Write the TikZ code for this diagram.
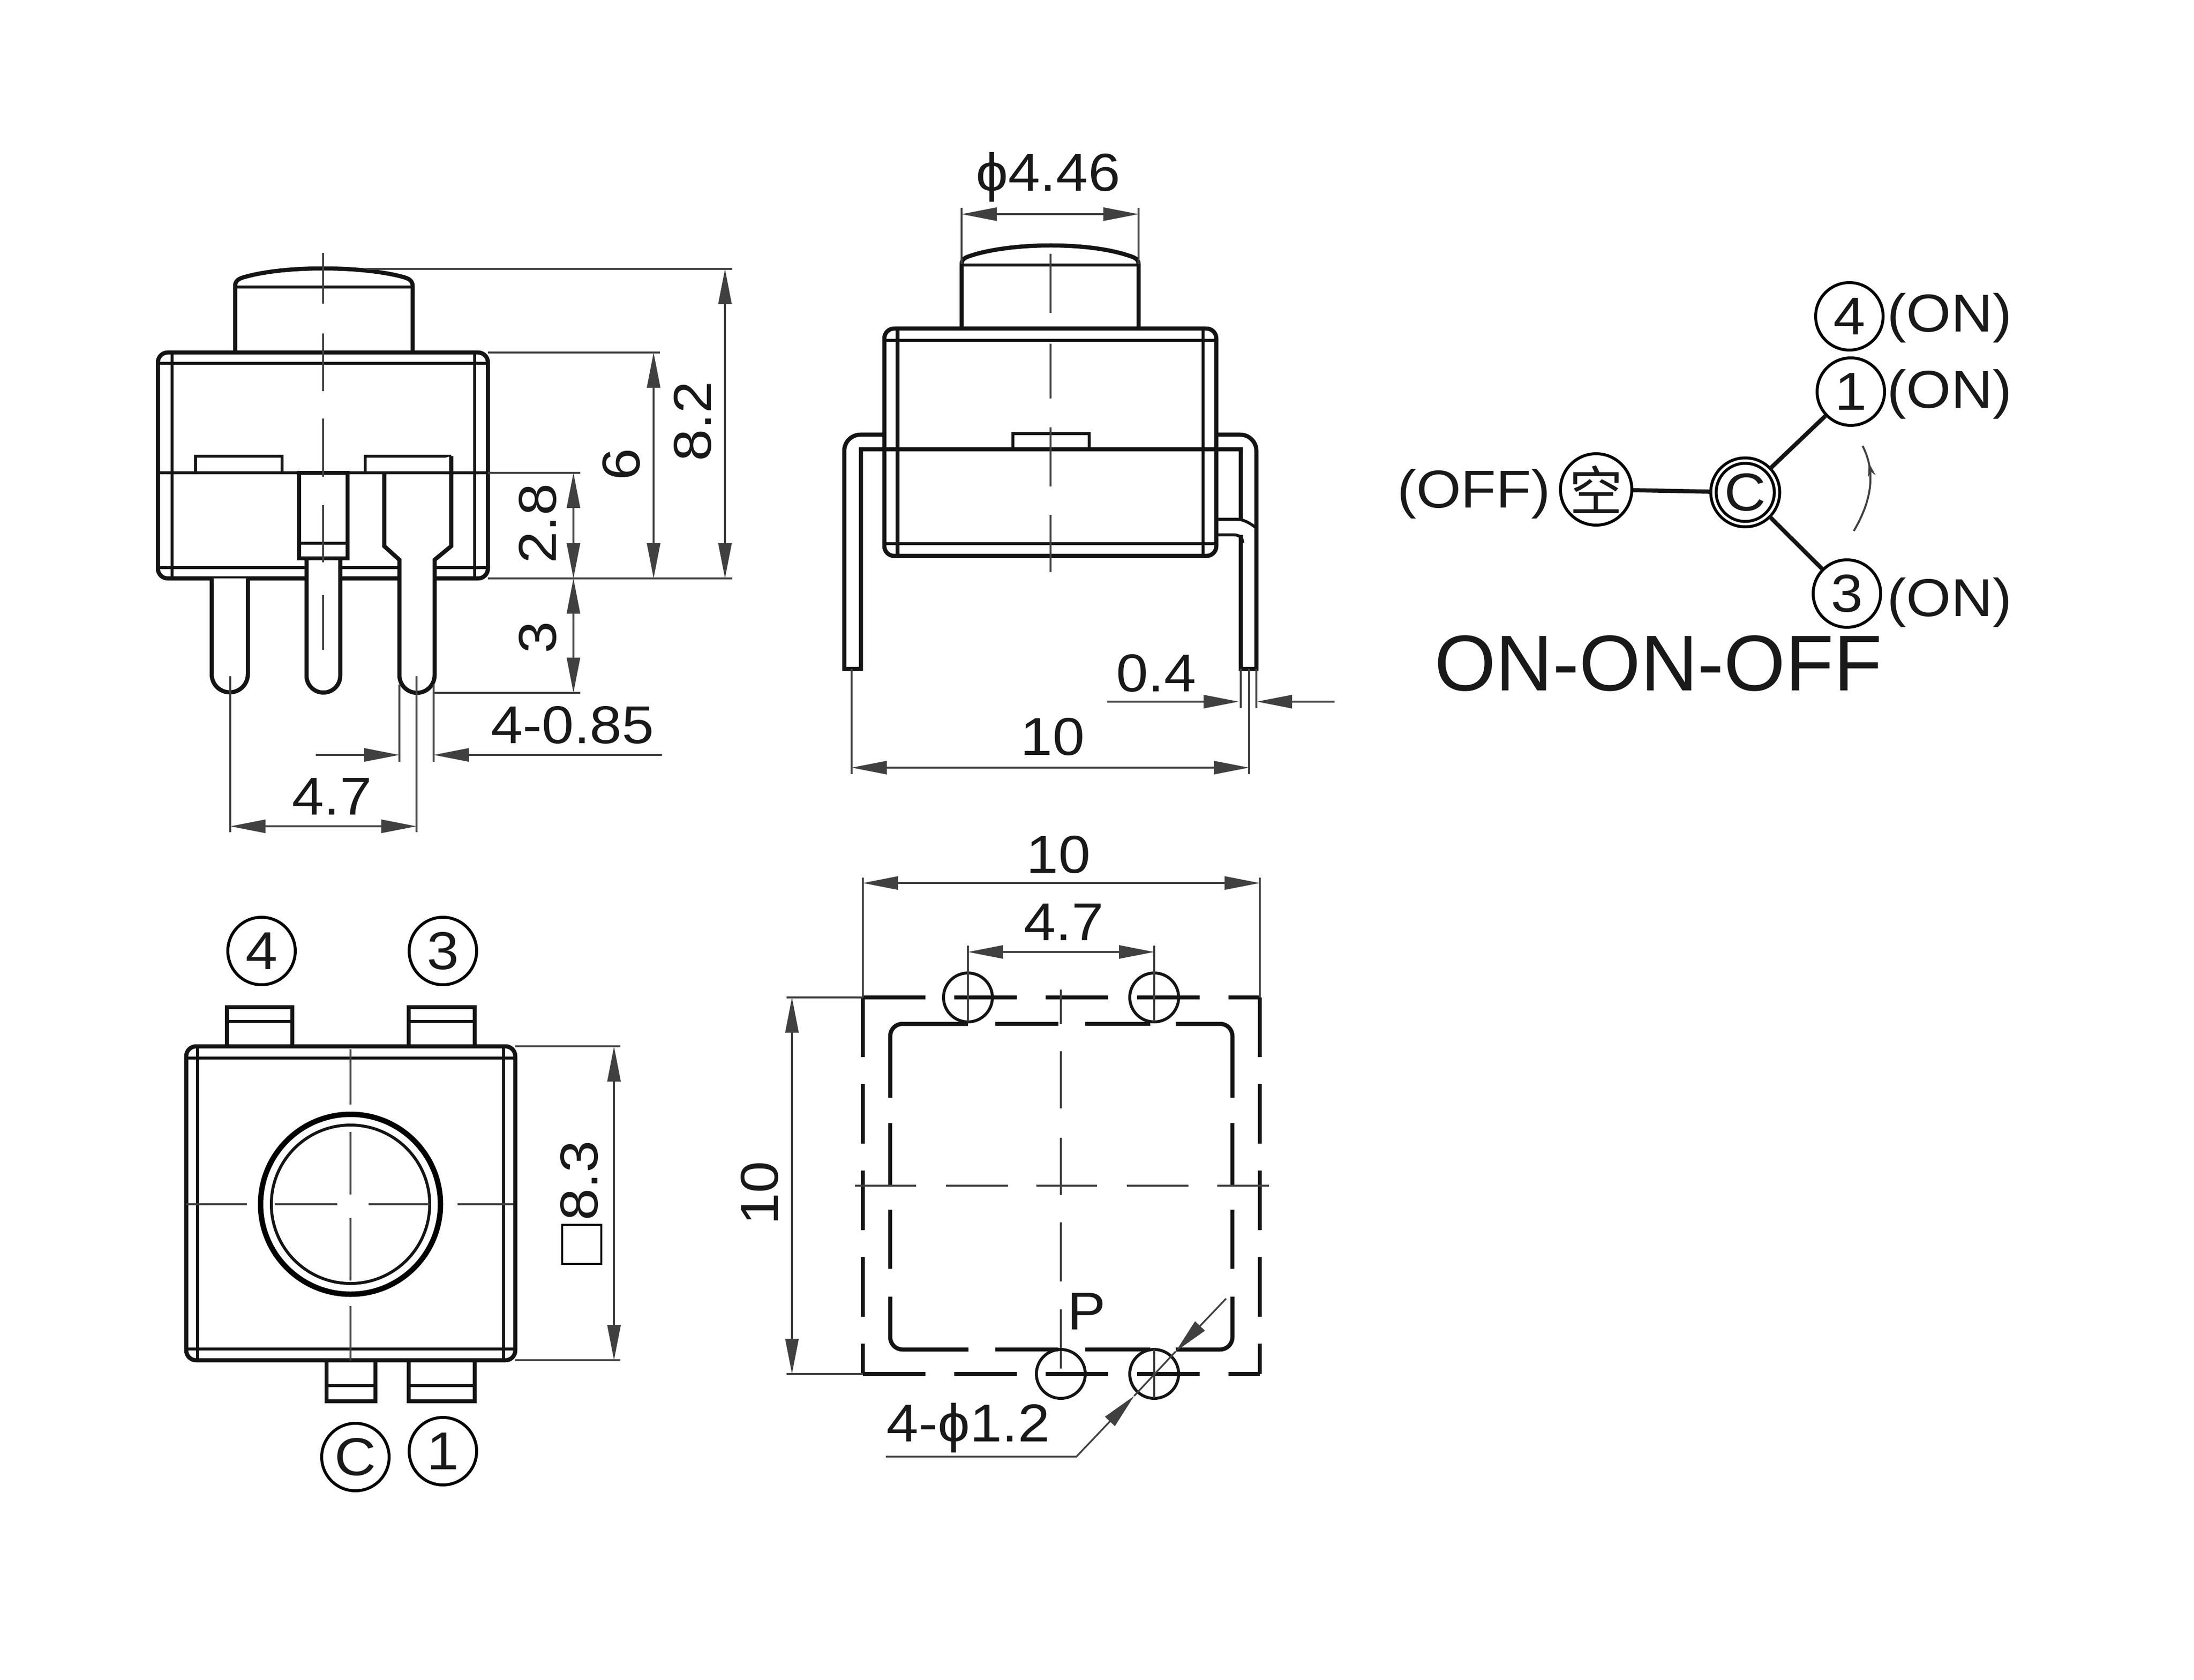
\documentclass[tikz,border=0pt]{standalone}
\usepackage{fontspec}
\setmainfont{Liberation Sans}[FakeStretch = 1.08]
\newfontfamily\titlefont{Liberation Sans}
\newfontfamily\cjkfont{Noto Sans CJK SC}
\usetikzlibrary{arrows.meta,decorations.markings}

\tikzset{
  partline/.style = {line width = .085cm, color = black!92},
  partthin/.style = {line width = .06cm, color = black!92},
  extline/.style = {line width = .035cm, color = black!75},
  ctrline/.style = {line width = .04cm, color = black!75},
  holeline/.style = {line width = .06cm, color = black!92},
  dimline/.style = {extline, {Triangle[length = .72cm, width = .27cm]}-{Triangle[length = .72cm, width = .27cm]}},
  dimend/.style = {extline, -{Triangle[length = .72cm, width = .27cm]}},
  dimtext/.style = {font = \fontsize{31}{31}\selectfont, inner sep = 0pt, text = black!90},
  pinmark/.style = {circle, draw, line width = .06cm, minimum size = 1.38cm, inner sep = 0pt,
    font = \fontsize{31}{31}\selectfont, text = black!90}
}

\begin{document}
\begin{tikzpicture}[x = 1cm, y = -1cm]
  \useasboundingbox (0, 0) rectangle (44.88, 34.36);

  % side view
  \draw[partline] (4.81, 7.18) -- (4.81, 5.85) .. controls (4.81, 5.70) and (4.95, 5.68) .. (5.10, 5.64)
  .. controls (5.90, 5.44) and (7.30, 5.44) .. (8.15, 5.64) .. controls (8.30, 5.68) and (8.44, 5.70) .. (8.44, 5.85) -- (8.44, 7.18);
  \draw[partthin] (4.81, 5.87) -- (8.44, 5.87);
  \draw[partline, rounded corners = .2cm] (3.23, 7.21) rectangle (9.98, 11.83);
  \draw[partthin] (3.23, 7.43) -- (9.98, 7.43);
  \draw[partthin] (3.23, 11.61) -- (9.98, 11.61);
  \draw[partthin] (3.52, 7.21) -- (3.52, 11.83);
  \draw[partthin] (9.71, 7.21) -- (9.71, 11.83);
  \draw[partthin] (3.23, 9.67) -- (9.98, 9.67);
  \draw[partthin] (4.00, 9.67) |- (5.77, 9.33) -- (5.77, 9.67);
  \draw[partthin] (7.47, 9.67) |- (9.23, 9.33);

  % pins of the side view
  \draw[partline, fill = white] (4.33, 11.83) -- (4.33, 13.79) arc[start angle = 180, end angle = 0, radius = .37] -- (5.07, 11.83);
  \draw[partline, fill = white] (6.27, 11.42) -- (6.27, 13.82) arc[start angle = 180, end angle = 0, radius = .345] -- (6.96, 11.42);
  \draw[partline, fill = white] (6.12, 9.67) rectangle (7.11, 11.42);
  \draw[partthin] (6.12, 11.11) -- (7.11, 11.11);
  \draw[partline, fill = white] (7.86, 9.67) -- (7.86, 11.17) -- (8.17, 11.45) -- (8.17, 13.81)
  arc[start angle = 180, end angle = 0, radius = .36] -- (8.89, 11.45) -- (9.23, 11.17) -- (9.23, 9.33);
  \draw[partthin] (7.47, 9.67) -- (9.23, 9.67);

  \foreach \ya/\yb in {5.17/6.21, 6.82/8.00, 8.56/9.75, 10.33/11.50, 12.17/13.29}{
    \draw[ctrline] (6.61, \ya) -- (6.61, \yb);
  }

  \draw[extline] (7.50, 5.50) -- (14.98, 5.50);
  \draw[extline] (9.98, 7.21) -- (13.50, 7.21);
  \draw[extline] (9.98, 9.67) -- (11.87, 9.67);
  \draw[extline] (9.98, 11.83) -- (14.98, 11.83);
  \draw[extline] (8.89, 14.17) -- (11.87, 14.17);
  \draw[extline] (8.17, 14.00) -- (8.17, 15.58);
  \draw[extline] (8.87, 14.00) -- (8.87, 15.58);
  \draw[extline] (4.71, 13.83) -- (4.71, 17.02);
  \draw[extline] (8.52, 13.83) -- (8.52, 17.02);
  \draw[dimline] (14.83, 5.50) -- (14.83, 11.83);
  \draw[dimline] (13.37, 7.21) -- (13.37, 11.83);
  \draw[dimline] (11.73, 9.67) -- (11.73, 11.83);
  \draw[dimline] (11.73, 11.83) -- (11.73, 14.17);
  \draw[dimend] (6.46, 15.44) -- (8.17, 15.44);
  \draw[dimend] (13.54, 15.44) -- (8.87, 15.44);
  \draw[dimline] (4.71, 16.90) -- (8.52, 16.90);
  \node[dimtext, rotate = 90] (lblAll) at (14.17, 8.62) {8.2};
  \node[dimtext, rotate = 90] (lblBody) at (12.71, 9.50) {6};
  \node[dimtext, rotate = 90] (lblLow) at (11.00, 10.71) {2.8};
  \node[dimtext, rotate = 90] (lblPin) at (11.00, 13.04) {3};
  \node[dimtext] (lblWire) at (11.71, 14.83) {4-0.85};
  \node[dimtext] (lblPitch) at (6.79, 16.29) {4.7};

  % front view
  \draw[partline] (19.67, 6.68) -- (19.67, 5.40) .. controls (19.67, 5.27) and (19.80, 5.25) .. (19.95, 5.20)
  .. controls (20.80, 4.96) and (22.20, 4.96) .. (23.00, 5.20) .. controls (23.15, 5.25) and (23.29, 5.27) .. (23.29, 5.40) -- (23.29, 6.68);
  \draw[partthin] (19.67, 5.42) -- (23.29, 5.42);
  \draw[partline] (18.09, 8.89) -- (17.60, 8.89) arc[start angle = 270, end angle = 180, radius = .33] -- (17.27, 13.68) -- (17.61, 13.68) -- (17.61, 9.19) -- (25.38, 9.19) -- (25.38, 10.62);
  \draw[partline] (24.88, 8.89) -- (25.37, 8.89) arc[start angle = 270, end angle = 360, radius = .33] -- (25.70, 13.68) -- (25.38, 13.68) -- (25.38, 10.94);
  \draw[partthin] (24.88, 10.62) -- (25.30, 10.62) .. controls (25.45, 10.62) and (25.60, 10.72) .. (25.70, 10.80);
  \draw[partthin] (24.88, 10.94) -- (25.25, 10.94) .. controls (25.35, 10.94) and (25.42, 11.00) .. (25.42, 11.10);
  \draw[partline, rounded corners = .2cm] (18.09, 6.72) rectangle (24.88, 11.37);
  \draw[partthin] (18.09, 6.96) -- (24.88, 6.96);
  \draw[partthin] (18.09, 11.12) -- (24.88, 11.12);
  \draw[partline] (18.36, 6.72) -- (18.36, 11.37);
  \draw[partthin] (24.61, 6.72) -- (24.61, 11.37);
  \draw[partthin] (20.72, 9.19) |- (22.28, 8.87) -- (22.28, 9.19);
  \foreach \ya/\yb in {5.19/6.40, 7.03/8.15, 8.74/9.95, 10.53/11.70}{
    \draw[ctrline] (21.49, \ya) -- (21.49, \yb);
  }

  \draw[extline] (19.67, 5.40) -- (19.67, 4.25);
  \draw[extline] (23.29, 5.40) -- (23.29, 4.25);
  \draw[extline] (25.38, 13.68) -- (25.38, 14.48);
  \draw[extline] (25.70, 13.68) -- (25.70, 14.48);
  \draw[extline] (17.42, 13.68) -- (17.42, 15.83);
  \draw[extline] (25.55, 13.68) -- (25.55, 15.83);
  \draw[dimline] (19.67, 4.38) -- (23.29, 4.38);
  \draw[dimend] (22.65, 14.35) -- (25.34, 14.35);
  \draw[dimend] (27.30, 14.35) -- (25.71, 14.35);
  \draw[dimline] (17.42, 15.70) -- (25.55, 15.70);
  \node[dimtext] (lblCap) at (21.44, 3.62) {ϕ4.46};
  \node[dimtext] (lblLead) at (23.65, 13.77) {0.4};
  \node[dimtext] (lblWide) at (21.53, 15.07) {10};

  % circuit
  \node[pinmark] (swFour) at (37.83, 6.47) {4};
  \node[pinmark] (swOne) at (37.86, 8.01) {1};
  \node[pinmark, double, double distance = .05cm, minimum size = 1.30cm] (swC) at (35.70, 10.07) {C};
  \node[pinmark] (swThree) at (37.78, 12.14) {3};
  \node[pinmark, font = \cjkfont\fontsize{31}{31}\selectfont] (swOff) at (32.65, 10.01) {空};
  \draw[partline] (swOff) -- (swC);
  \draw[partline] (swC) -- (swOne);
  \draw[partline] (swC) -- (swThree);
  \node[dimtext] (onFour) at (39.88, 6.50) {(ON)};
  \node[dimtext] (onOne) at (39.88, 8.06) {(ON)};
  \node[dimtext] (onThree) at (39.88, 12.32) {(ON)};
  \node[dimtext] (offText) at (30.15, 10.10) {(OFF)};
  \node[dimtext, font = \titlefont\fontsize{46}{46}\selectfont] (swTitle) at (33.92, 13.57) {ON-ON-OFF};
  \begin{scope}[decoration = {markings, mark = at position 0.8 with {\arrow{Stealth[length = .28cm, width = .16cm]}}}]
    \draw[ctrline, postaction = decorate] (37.92, 10.86) .. controls (38.25, 10.30) and (38.40, 9.70) .. (38.10, 9.12);
  \end{scope}

  % top view
  \foreach \xa/\xb in {4.64/5.98, 8.36/9.71}{
    \draw[partline, fill = white] (\xa, 21.40) |- (\xb, 20.60) -- (\xb, 21.40);
    \draw[partthin] (\xa, 20.89) -- (\xb, 20.89);
  }
  \draw[partline, fill = white] (6.68, 27.82) |- (7.68, 28.66) -- (7.68, 27.82);
  \draw[partthin] (6.68, 28.34) -- (7.68, 28.34);
  \draw[partline, fill = white] (8.36, 27.82) |- (9.71, 28.66) -- (9.71, 27.82);
  \draw[partthin] (8.36, 28.34) -- (9.71, 28.34);
  \draw[partline, fill = white, rounded corners = .2cm] (3.81, 21.40) rectangle (10.54, 27.82);
  \draw[partthin] (3.81, 21.64) -- (10.54, 21.64);
  \draw[partthin] (3.81, 27.59) -- (10.54, 27.59);
  \draw[partthin] (4.04, 21.40) -- (4.04, 27.82);
  \draw[partthin] (10.30, 21.40) -- (10.30, 27.82);
  \draw[line width = .11cm] (7.17, 24.63) circle[radius = 1.84];
  \draw[partthin] (7.17, 24.63) circle[radius = 1.62];
  \foreach \ya/\yb in {21.46/22.59, 23.15/24.43, 24.91/26.19, 26.71/27.83}{
    \draw[ctrline] (7.17, \ya) -- (7.17, \yb);
  }
  \foreach \xa/\xb in {3.81/5.05, 5.62/6.90, 7.54/8.79, 9.36/10.50}{
    \draw[ctrline] (\xa, 24.63) -- (\xb, 24.63);
  }
  \node[pinmark] (padFour) at (5.35, 19.45) {4};
  \node[pinmark] (padThree) at (9.06, 19.45) {3};
  \node[pinmark] (padC) at (7.27, 29.80) {C};
  \node[pinmark] (padOne) at (9.06, 29.68) {1};
  \draw[extline] (10.54, 21.40) -- (12.69, 21.40);
  \draw[extline] (10.54, 27.82) -- (12.69, 27.82);
  \draw[dimline] (12.56, 21.40) -- (12.56, 27.82);
  \node[dimtext, rotate = 90] (lblSize) at (11.85, 24.15) {8.3};
  \node[draw, line width = .04cm, minimum size = .80cm, inner sep = 0pt] (lblSquare) at (11.90, 25.45) {};

  % footprint
  \tikzset{
    outerx/.style = {partline, dash pattern = on 1.28cm off .59cm},
    outery/.style = {partline, dash pattern = on 1.22cm off .55cm}
  }
  \foreach \y in {20.40, 28.10}{
    \draw[outerx] (17.65, \y) -- (25.77, \y);
  }
  \foreach \x in {17.65, 25.77}{
    \draw[outery] (\x, 20.40) -- (\x, 28.10);
  }
  \draw[partline, rounded corners = .25cm] (18.21, 22.45) |- (19.80, 20.94);
  \draw[partline, rounded corners = .25cm] (24.05, 20.94) -| (25.21, 22.45);
  \draw[partline, rounded corners = .25cm] (18.21, 26.52) |- (19.81, 27.60);
  \draw[partline, rounded corners = .25cm] (24.05, 27.60) -| (25.21, 26.52);
  \foreach \xa/\xb in {20.36/21.65, 22.20/23.53}{
    \draw[partline] (\xa, 20.94) -- (\xb, 20.94);
    \draw[partline] (\xa, 27.60) -- (\xb, 27.60);
  }
  \foreach \ya/\yb in {22.97/24.27, 24.74/25.95}{
    \draw[partline] (18.21, \ya) -- (18.21, \yb);
    \draw[partline] (25.21, \ya) -- (25.21, \yb);
  }
  \foreach \ya/\yb in {20.24/20.94, 21.50/22.67, 23.27/24.44, 25.00/26.21, 26.78/27.99}{
    \draw[ctrline] (21.70, \ya) -- (21.70, \yb);
  }
  \foreach \xa/\xb in {17.49/18.74, 19.35/20.62, 21.20/22.44, 23.05/24.31, 24.90/25.96}{
    \draw[ctrline] (\xa, 24.25) -- (\xb, 24.25);
  }
  \foreach \hx/\hy in {19.80/20.40, 23.61/20.40, 21.70/28.10, 23.61/28.10}{
    \draw[holeline] (\hx, \hy) circle[radius = .5];
  }
  \draw[extline] (19.80, 19.34) -- (19.80, 20.89);
  \draw[extline] (23.61, 19.34) -- (23.61, 20.89);
  \draw[extline] (23.61, 27.60) -- (23.61, 28.59);
  \draw[extline] (17.65, 17.95) -- (17.65, 20.40);
  \draw[extline] (25.77, 17.95) -- (25.77, 20.40);
  \draw[extline] (16.09, 20.40) -- (17.65, 20.40);
  \draw[extline] (16.09, 28.10) -- (17.65, 28.10);
  \draw[dimline] (17.65, 18.06) -- (25.77, 18.06);
  \draw[dimline] (19.80, 19.47) -- (23.61, 19.47);
  \draw[dimline] (16.20, 20.40) -- (16.20, 28.10);
  \draw[dimend] (25.08, 26.56) -- (24.05, 27.64);
  \draw[extline] (24.05, 27.64) -- (23.20, 28.55);
  \draw[dimend] (18.12, 29.79) -- (22.02, 29.79) -- (23.20, 28.55);
  \node[dimtext] (lblOuter) at (21.65, 17.48) {10};
  \node[dimtext] (lblHoles) at (21.76, 18.86) {4.7};
  \node[dimtext, rotate = 90] (lblTall) at (15.54, 24.40) {10};
  \node[dimtext] (lblP) at (22.23, 26.82) {P};
  \node[dimtext] (lblHole) at (19.81, 29.20) {4-ϕ1.2};
\end{tikzpicture}
\end{document}
